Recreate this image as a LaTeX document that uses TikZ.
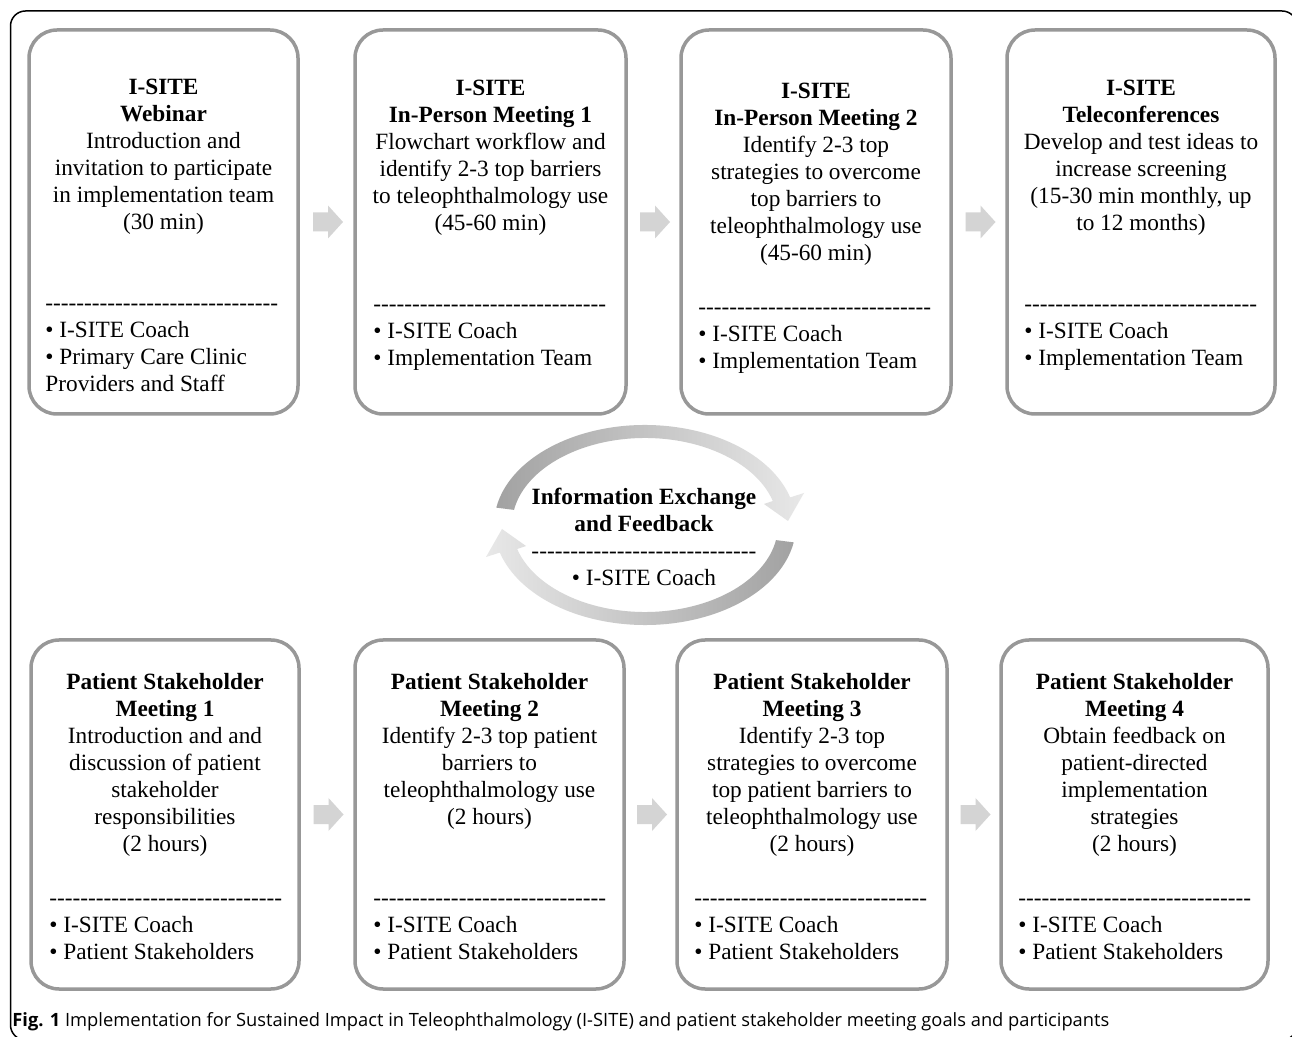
\documentclass[tikz,border=0pt]{standalone}
\usepackage{fontspec}
\setmainfont{Liberation Serif}[Ligatures=TeXOff]
\newfontfamily\capfont{Open Sans}
\usetikzlibrary{calc,fit}
\definecolor{boxgray}{HTML}{989898}
\definecolor{arrgray}{HTML}{D4D4D4}
\definecolor{arcdark}{HTML}{A2A2A2}
\definecolor{arclight}{HTML}{E8E8E8}
\newcommand\hylineA{------------------------------}
\newcommand\hylineB{-----------------------------}
\tikzset{
  box/.style={draw=boxgray, line width=1.75pt, rounded corners=14pt, inner sep=0pt},
  ctext/.style={anchor=north, inner sep=0pt, align=center, font=\fontsize{11.65}{13.5}\selectfont},
  ltext/.style={anchor=north west, inner sep=0pt, align=left, font=\fontsize{11.65}{13.5}\selectfont},
  blk/.style={fill=arrgray},
}
\newcommand\blockarrow[1]{%
  \fill[blk, shift={(#1)}] (-15,-9.5) -- (0,-9.5) -- (0,-16.5) -- (15,0) -- (0,16.5) -- (0,9.5) -- (-15,9.5) -- cycle;}
\begin{document}
\begin{tikzpicture}[x=0.5pt,y=-0.5pt]
\useasboundingbox (0,0) rectangle (1292,1037);
\clip (0,0) rectangle (1292,1037);
\fill[white] (0,0) rectangle (1292,1037);
\draw[line width=0.75pt, rounded corners=7.5pt] (10.5,11) rectangle (1297,1040);

% top row boxes
\node[box, fit={(29,30) (298,414)}] (t1) {};
\node[box, fit={(355,30) (626,414)}] (t2) {};
\node[box, fit={(681,30) (951,414)}] (t3) {};
\node[box, fit={(1007,30) (1275,414)}] (t4) {};
% bottom row boxes
\node[box, fit={(31,640) (299,989)}] (b1) {};
\node[box, fit={(355,640) (624,989)}] (b2) {};
\node[box, fit={(677,640) (947,989)}] (b3) {};
\node[box, fit={(1001,640) (1268,989)}] (b4) {};

% block arrows
\coordinate (m1) at ($(t1.east)!0.5!(t2.west)+(1.5,0)$);
\coordinate (m2) at ($(t2.east)!0.5!(t3.west)+(1.5,0)$);
\coordinate (m3) at ($(t3.east)!0.5!(t4.west)+(1.5,0)$);
\coordinate (m4) at ($(b1.east)!0.5!(b2.west)+(1.5,0)$);
\coordinate (m5) at ($(b2.east)!0.5!(b3.west)+(1.5,0)$);
\coordinate (m6) at ($(b3.east)!0.5!(b4.west)+(1.5,0)$);
\blockarrow{m1}\blockarrow{m2}\blockarrow{m3}
\blockarrow{m4}\blockarrow{m5}\blockarrow{m6}

% top row texts
\node[ctext] (t1a) at (163.5,78.5) {\textbf{I-SITE}\\\textbf{Webinar}\\Introduction and\\invitation to participate\\in implementation team\\(30 min)};
\node[ctext] (t2a) at (490.5,79.5) {\textbf{I-SITE}\\\textbf{In-Person Meeting 1}\\Flowchart workflow and\\identify 2-3 top barriers\\to teleophthalmology use\\(45-60 min)};
\node[ctext] (t3a) at (816,82.5) {\textbf{I-SITE}\\\textbf{In-Person Meeting 2}\\Identify 2-3 top\\strategies to overcome\\top barriers to\\teleophthalmology use\\(45-60 min)};
\node[ctext] (t4a) at (1141,79.5) {\textbf{I-SITE}\\\textbf{Teleconferences}\\Develop and test ideas to\\increase screening\\(15-30 min monthly, up\\to 12 months)};

\node[ltext] (t1b) at (45,294.7) {\vphantom{I}\hylineA\\\textbullet{} I-SITE Coach\\\textbullet{} Primary Care Clinic\\Providers and Staff};
\node[ltext] (t2b) at (373,295.7) {\vphantom{I}\hylineA\\\textbullet{} I-SITE Coach\\\textbullet{} Implementation Team};
\node[ltext] (t3b) at (698,298.7) {\vphantom{I}\hylineA\\\textbullet{} I-SITE Coach\\\textbullet{} Implementation Team};
\node[ltext] (t4b) at (1024,295.7) {\vphantom{I}\hylineA\\\textbullet{} I-SITE Coach\\\textbullet{} Implementation Team};

% bottom row texts
\node[ctext] (b1a) at (165,673) {\textbf{Patient Stakeholder}\\\textbf{Meeting 1}\\Introduction and and\\discussion of patient\\stakeholder\\responsibilities\\(2 hours)};
\node[ctext] (b2a) at (489.5,673) {\textbf{Patient Stakeholder}\\\textbf{Meeting 2}\\Identify 2-3 top patient\\barriers to\\teleophthalmology use\\(2 hours)};
\node[ctext] (b3a) at (812,673) {\textbf{Patient Stakeholder}\\\textbf{Meeting 3}\\Identify 2-3 top\\strategies to overcome\\top patient barriers to\\teleophthalmology use\\(2 hours)};
\node[ctext] (b4a) at (1134.5,673) {\textbf{Patient Stakeholder}\\\textbf{Meeting 4}\\Obtain feedback on\\patient-directed\\implementation\\strategies\\(2 hours)};

\node[ltext] (b1b) at (49,889.7) {\vphantom{I}\hylineA\\\textbullet{} I-SITE Coach\\\textbullet{} Patient Stakeholders};
\node[ltext] (b2b) at (373,889.7) {\vphantom{I}\hylineA\\\textbullet{} I-SITE Coach\\\textbullet{} Patient Stakeholders};
\node[ltext] (b3b) at (694,889.7) {\vphantom{I}\hylineA\\\textbullet{} I-SITE Coach\\\textbullet{} Patient Stakeholders};
\node[ltext] (b4b) at (1018,889.7) {\vphantom{I}\hylineA\\\textbullet{} I-SITE Coach\\\textbullet{} Patient Stakeholders};

% circular arrows
\coordinate (C) at (645,525);
\shade[left color=arcdark, right color=arclight]
  ($(C)+(190:151 and 100)$) arc[start angle=190, end angle=344, x radius=151, y radius=100]
  -- (804,493) -- (788,521) -- (764,504)
  -- ($(C)+(344:133 and 87)$) arc[start angle=344, end angle=190, x radius=133, y radius=87] -- cycle;
\shade[left color=arclight, right color=arcdark]
  ($(C)+(10:151 and 100)$) arc[start angle=10, end angle=164, x radius=151, y radius=100]
  -- (486,557) -- (502,529) -- (526,546)
  -- ($(C)+(164:133 and 87)$) arc[start angle=164, end angle=10, x radius=133, y radius=87] -- cycle;

\node[ctext] (info) at (644,488) {\textbf{Information Exchange}\\\textbf{and Feedback}\\\hylineB\\\textbullet{} I-SITE Coach};

% caption
\node[anchor=base west, inner sep=0pt, font=\capfont\fontsize{9.15}{11}\selectfont] (cap) at (12,1026) {\textbf{Fig. 1} Implementation for Sustained Impact in Teleophthalmology (I-SITE) and patient stakeholder meeting goals and participants};
\end{tikzpicture}
\end{document}
